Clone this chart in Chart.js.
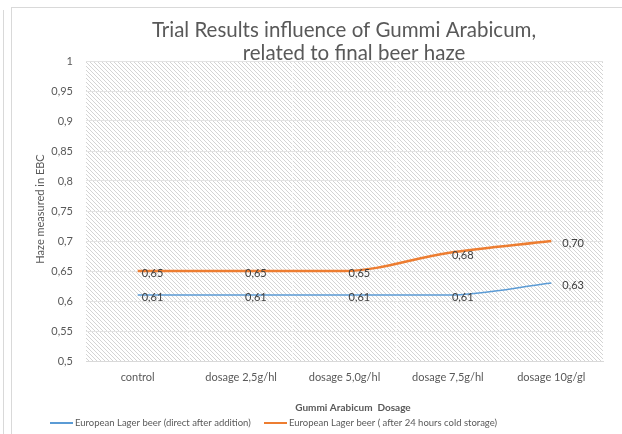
<!DOCTYPE html>
<html>
<head>
<meta charset="utf-8">
<script src="https://cdn.jsdelivr.net/npm/chart.js@4.4.1/dist/chart.umd.min.js"></script>
<style>
  html, body { margin: 0; padding: 0; background: #fff; }
  #wrap { position: relative; width: 622px; height: 434px; overflow: hidden; }
  #outer { position: absolute; left: 3px; top: 10px; width: 0; height: 430px; border-left: 1px solid #d9d9d9; }
  #frame { position: absolute; left: 11px; top: 7px; width: 620px; height: 440px; border-left: 1px solid #d9d9d9; border-top: 1px solid #d9d9d9; }
  canvas { position: absolute; left: 0; top: 0; }
</style>
</head>
<body>
<div id="wrap">
  <div id="outer"></div>
  <div id="frame"></div>
  <canvas id="haze" width="622" height="434"></canvas>
</div>
<script>
const categories = ['control', 'dosage 2,5g/hl', 'dosage 5,0g/hl', 'dosage 7,5g/hl', 'dosage 10g/gl'];
const directValues = [0.61, 0.61, 0.61, 0.61, 0.63];
const storedValues = [0.65, 0.65, 0.65, 0.68, 0.70];
const seriesNames = ['European Lager beer (direct after addition)', 'European Lager beer ( after 24 hours cold storage)'];
const titleLines = ['Trial Results influence of Gummi Arabicum,', 'related to final beer haze'];
const yTitle = 'Haze measured in EBC';
const xTitle = 'Gummi Arabicum  Dosage';

document.addEventListener("DOMContentLoaded", () => {
    const fontFam = 'Lato, "Open Sans", sans-serif';

    // hatched plot background, like excel's diagonal pattern fill
    const pc = document.createElement('canvas');
    pc.width = 4; pc.height = 4;
    const px = pc.getContext('2d');
    px.fillStyle = '#ffffff';
    px.fillRect(0, 0, 4, 4);
    px.fillStyle = '#d4d4d4';
    for (let i = 0; i < 4; i++) px.fillRect(i, i, 1, 1);

    const hatch = {
        id: 'hatch',
        beforeDraw(chart) {
            const { ctx, chartArea: a } = chart;
            ctx.save();
            ctx.fillStyle = ctx.createPattern(pc, 'repeat');
            ctx.fillRect(a.left, a.top, a.right - a.left, a.bottom - a.top);
            ctx.restore();
        }
    };

    // titles and legend drawn by hand so they sit where excel put them
    const texts = {
        id: 'texts',
        afterDraw(chart) {
            const ctx = chart.ctx;
            ctx.save();
            ctx.fillStyle = '#595959';
            ctx.font = '20.5px ' + fontFam;
            ctx.textAlign = 'center';
            ctx.textBaseline = 'middle';
            ctx.fillText(titleLines[0], 344, 30);
            ctx.fillText(titleLines[1], 354, 53);

            ctx.font = 'bold 10px ' + fontFam;
            ctx.fillText(xTitle, 353, 408);

            ctx.font = '11px ' + fontFam;
            ctx.translate(40, 209);
            ctx.rotate(-Math.PI / 2);
            ctx.fillText(yTitle, 0, 0);
            ctx.restore();

            ctx.save();
            ctx.font = '9.5px ' + fontFam;
            ctx.textBaseline = 'middle';
            ctx.textAlign = 'left';
            const legendX = [50, 264];
            chart.data.datasets.forEach((ds, i) => {
                ctx.strokeStyle = ds.borderColor;
                ctx.lineWidth = 2;
                ctx.beginPath();
                ctx.moveTo(legendX[i], 423);
                ctx.lineTo(legendX[i] + 23, 423);
                ctx.stroke();
                ctx.fillStyle = '#595959';
                ctx.fillText(ds.label, legendX[i] + 25, 423);
            });
            ctx.restore();
        }
    };

    // value labels to the right of each point
    const valueLabels = {
        id: 'valueLabels',
        afterDatasetsDraw(chart) {
            const ctx = chart.ctx;
            ctx.save();
            ctx.fillStyle = '#404040';
            ctx.font = '11px ' + fontFam;
            ctx.textAlign = 'left';
            ctx.textBaseline = 'middle';
            chart.data.datasets.forEach((ds, i) => {
                chart.getDatasetMeta(i).data.forEach((pt, j) => {
                    const last = j === ds.data.length - 1;
                    ctx.fillText(ds.data[j].toFixed(2).replace('.', ','), pt.x + (last ? 11 : 4), pt.y + 2);
                });
            });
            ctx.restore();
        }
    };

    new Chart(document.getElementById('haze'), {
        type: 'line',
        data: {
            labels: categories,
            datasets: [{
                label: seriesNames[0],
                data: directValues,
                borderColor: '#5B9BD5',
                backgroundColor: '#5B9BD5',
                borderWidth: 1.5,
                pointRadius: 0,
                cubicInterpolationMode: 'monotone'
            }, {
                label: seriesNames[1],
                data: storedValues,
                borderColor: '#ED7D31',
                backgroundColor: '#ED7D31',
                borderWidth: 2.5,
                pointRadius: 0,
                cubicInterpolationMode: 'monotone'
            }]
        },
        options: {
            responsive: false,
            animation: false,
            layout: { padding: { left: 11, top: 61, right: 19, bottom: 13 } },
            plugins: {
                title: { display: false },
                tooltip: { enabled: false },
                legend: { display: false }
            },
            scales: {
                x: {
                    offset: true,
                    grid: { display: true, offset: true, color: 'rgba(255,255,255,0.7)', drawTicks: false },
                    border: { color: '#d9d9d9' },
                    ticks: { color: '#595959', font: { family: fontFam, size: 11 }, padding: 10, maxRotation: 0 },
                    afterFit: s => { s.height = 60; }
                },
                y: {
                    min: 0.5,
                    max: 1,
                    grid: { color: '#e3e3e3', drawTicks: false },
                    border: { display: false },
                    ticks: {
                        stepSize: 0.05,
                        color: '#595959',
                        padding: 13,
                        font: { family: fontFam, size: 11 },
                        callback: v => String(Math.round(v * 100) / 100).replace('.', ',')
                    },
                    afterFit: s => { s.width = 75; }
                }
            }
        },
        plugins: [hatch, texts, valueLabels]
    });
});
</script>
</body>
</html>
